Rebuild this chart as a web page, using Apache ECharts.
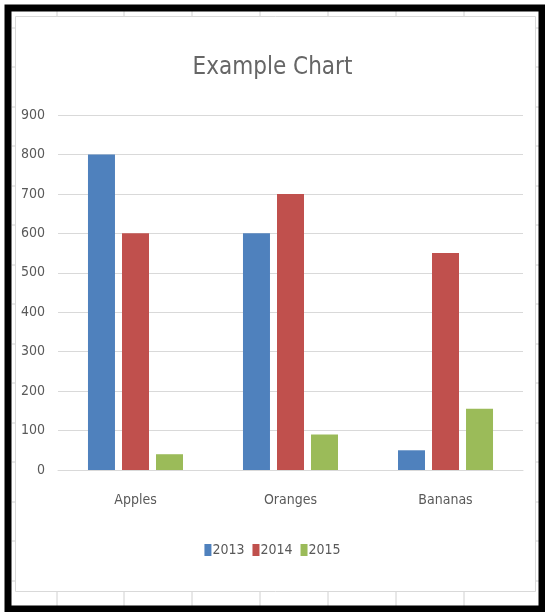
<!DOCTYPE html>
<html>
<head>
<meta charset="utf-8">
<script src="https://cdn.jsdelivr.net/npm/echarts@6/dist/echarts.min.js"></script>
<style>
html,body{margin:0;padding:0;background:#fff;}
#chart{width:545px;height:612px;}
</style>
</head>
<body>
<div id="chart"></div>
<script>
const categories = ['Apples', 'Oranges', 'Bananas'];
const seriesNames = ['2013', '2014', '2015'];
const values2013 = [800, 600, 50];
const values2014 = [600, 700, 550];
const values2015 = [40, 90, 155];
const yTicks = [0, 100, 200, 300, 400, 500, 600, 700, 800, 900];
const colors = ['#4F81BD', '#C0504D', '#9BBB59'];

const FONT = '"Liberation Sans Narrow", "DejaVu Sans Condensed", "Liberation Sans", sans-serif';

const sheetCols = [57, 124, 192, 260, 328, 396, 464];
const sheetRows = [28, 67, 107, 146, 186, 225, 265, 304, 344, 383, 423, 462, 502, 541, 581];

const graphics = [];
sheetCols.forEach(x => {
  graphics.push({type:'line', z:-10, shape:{x1:x, y1:11, x2:x, y2:16}, style:{stroke:'#d0d0d0', lineWidth:1}});
  graphics.push({type:'line', z:-10, shape:{x1:x, y1:591, x2:x, y2:606}, style:{stroke:'#d0d0d0', lineWidth:1}});
});
sheetRows.forEach(y => {
  graphics.push({type:'line', z:-10, shape:{x1:12, y1:y, x2:15, y2:y}, style:{stroke:'#d0d0d0', lineWidth:1}});
  graphics.push({type:'line', z:-10, shape:{x1:535, y1:y, x2:539, y2:y}, style:{stroke:'#d0d0d0', lineWidth:1}});
});
graphics.push({type:'rect', z:-5, shape:{x:15.5, y:16.5, width:520, height:575}, style:{fill:'none', stroke:'#d9d9d9', lineWidth:1}});
graphics.push({type:'rect', z:100, shape:{x:8, y:8, width:534, height:601}, style:{fill:'none', stroke:'#000', lineWidth:7}});

const chart = echarts.init(document.getElementById('chart'), null, {renderer:'canvas'});
chart.setOption({
  backgroundColor: '#fff',
  animation: false,
  color: colors,
  title: {
    text: 'Example Chart',
    left: 'center',
    top: 51,
    textStyle: {fontFamily: FONT, fontSize: 24, fontWeight: 'normal', color: '#666666'}
  },
  legend: {
    data: seriesNames,
    bottom: 50,
    left: 'center',
    itemWidth: 7,
    itemHeight: 12,
    itemGap: 8,
    icon: 'rect',
    textStyle: {fontFamily: FONT, fontSize: 14, color: '#595959', padding: [0,0,0,-4]}
  },
  grid: {left: 58, right: 22, top: 115, bottom: 142, containLabel: false},
  xAxis: {
    type: 'category',
    data: categories,
    axisTick: {show: false},
    axisLine: {lineStyle: {color: '#d9d9d9'}},
    axisLabel: {margin: 23, fontFamily: FONT, fontSize: 14, color: '#595959'}
  },
  yAxis: {
    type: 'value',
    min: 0,
    max: 900,
    interval: 100,
    axisLine: {show: false},
    axisTick: {show: false},
    splitLine: {lineStyle: {color: '#d9d9d9'}},
    axisLabel: {margin: 13, fontFamily: FONT, fontSize: 14, color: '#595959',
      formatter: v => yTicks.includes(v) ? String(v) : ''}
  },
  series: [
    {name: seriesNames[0], type: 'bar', data: values2013, barWidth: 27, barGap: '26%'},
    {name: seriesNames[1], type: 'bar', data: values2014, barWidth: 27, barGap: '26%'},
    {name: seriesNames[2], type: 'bar', data: values2015, barWidth: 27, barGap: '26%'}
  ],
  graphic: graphics
});
</script>
</body>
</html>
